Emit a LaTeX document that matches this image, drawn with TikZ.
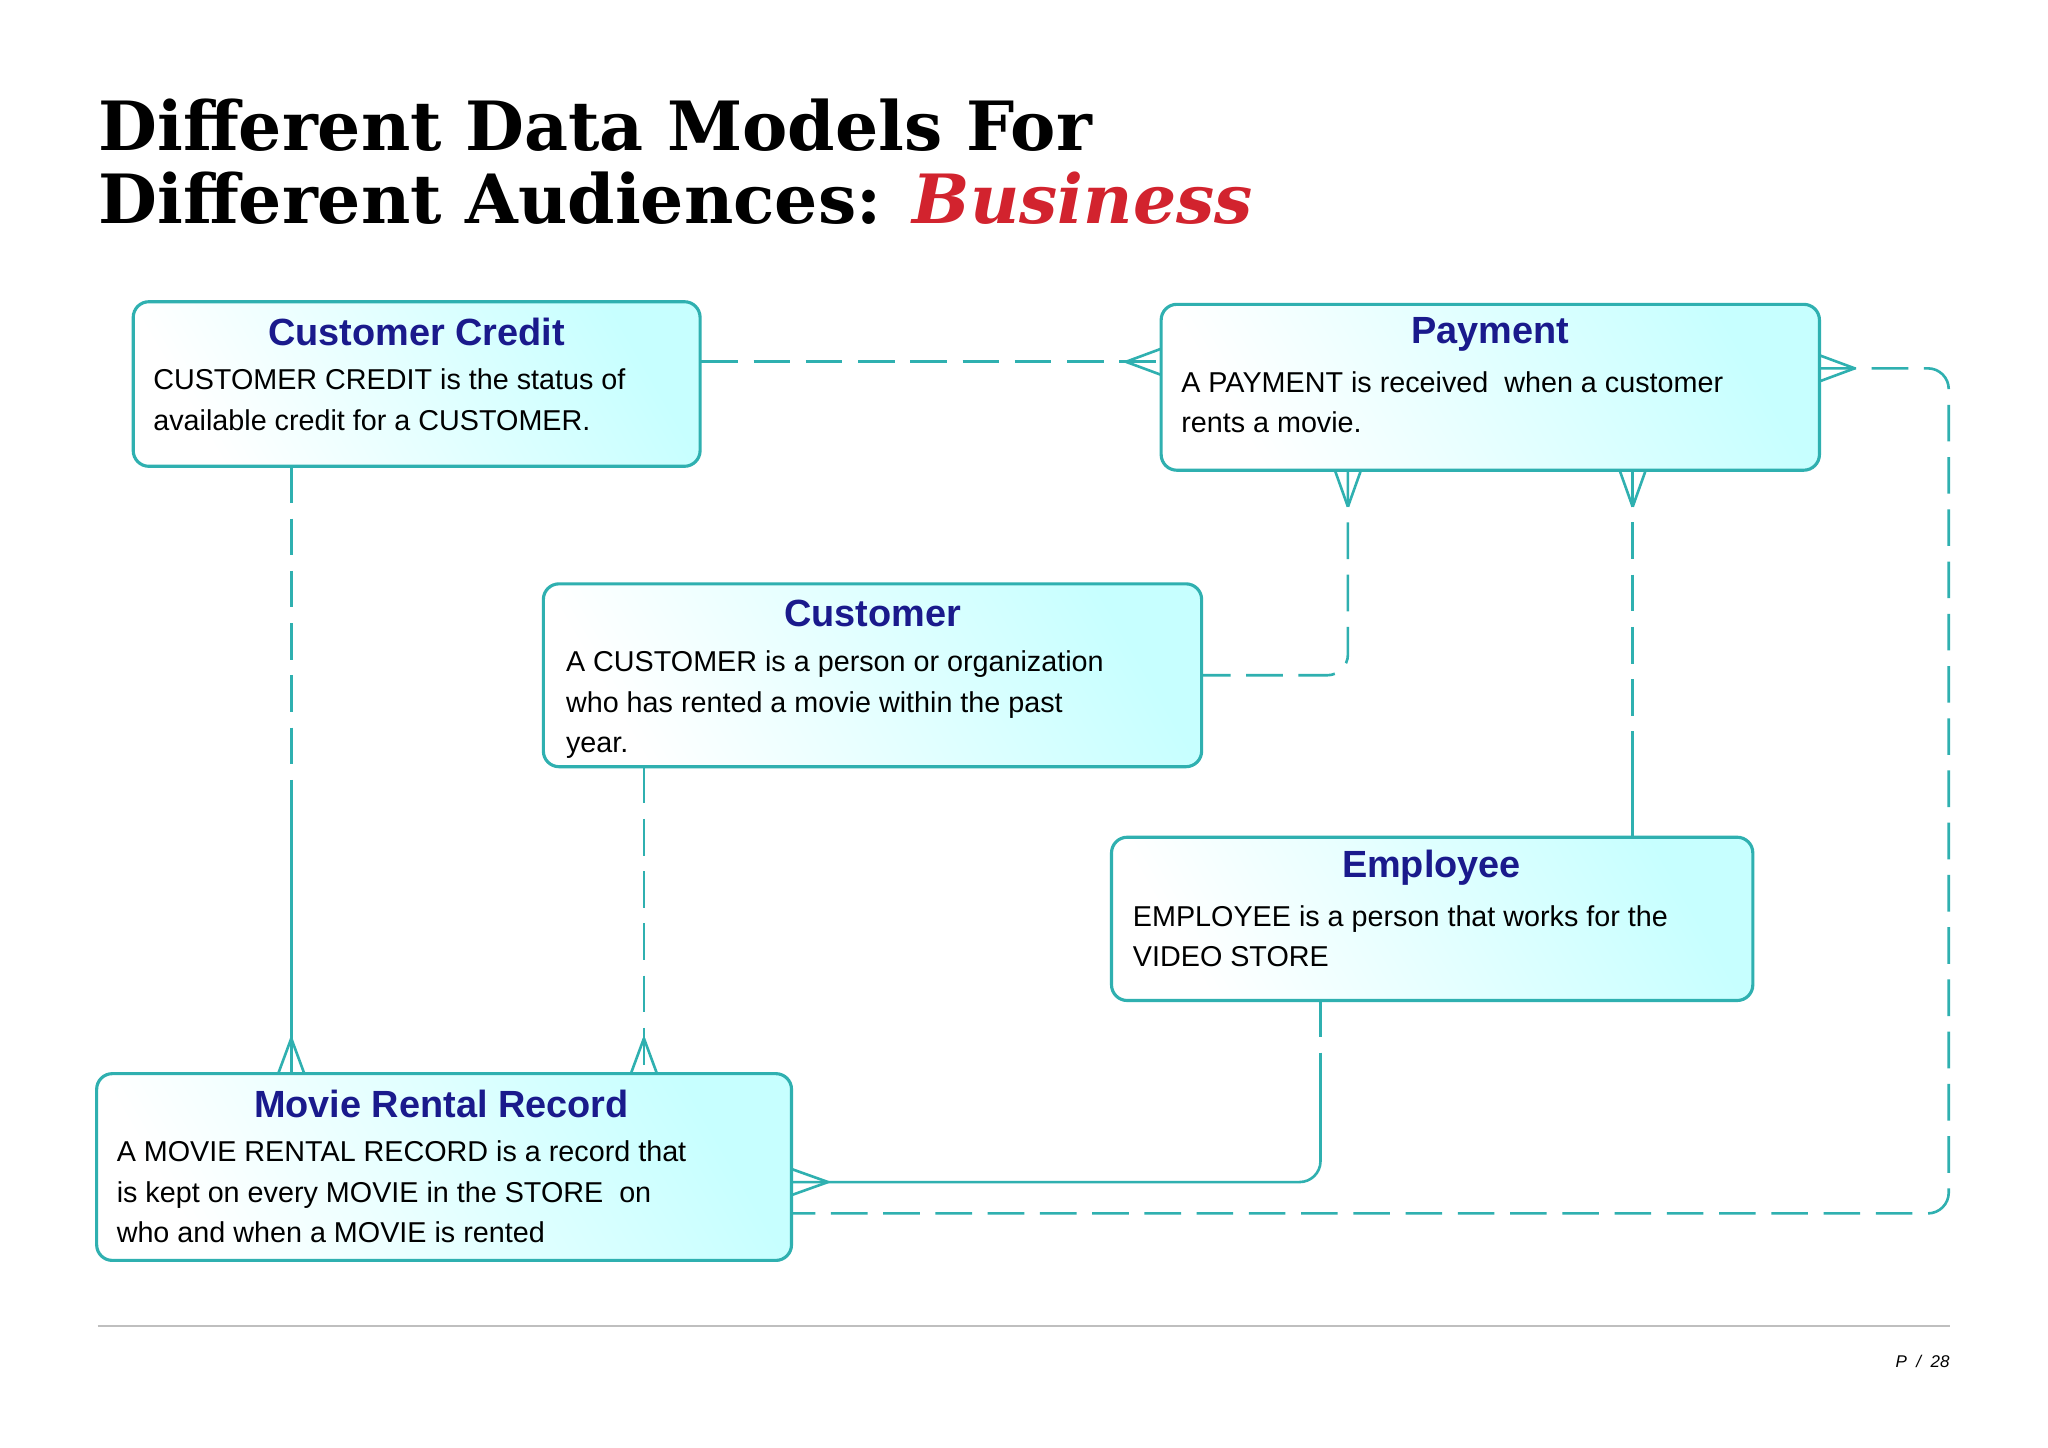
\documentclass[tikz,border=0pt]{standalone}
\usepackage{fontspec}
\setsansfont{Liberation Sans}
\newfontfamily\ttlfont{DejaVu Serif}
\usetikzlibrary{calc}
\definecolor{teal1}{HTML}{2FB0B0}
\definecolor{navy}{HTML}{1A1A8C}
\definecolor{redb}{HTML}{D2232E}
\begin{document}
\begin{tikzpicture}[x=0.5pt,y=-0.5pt,
 ent/.style={draw=teal1,line width=1.2pt,rounded corners=6pt,left color=cyan!22,right color=white,shading angle=300,inner sep=0pt},
 ttl/.style={font=\sffamily\bfseries\fontsize{14.5}{17}\selectfont,text=navy},
 body/.style={font=\sffamily\fontsize{11}{15.5}\selectfont,align=left,anchor=north west,inner sep=0pt},
 rel/.style={draw=teal1,line width=1pt,dash pattern=on 14pt off 6pt},
 sol/.style={draw=teal1,line width=1pt},
 crow/.style={draw=teal1,line width=1pt}]
\useasboundingbox (0,0) rectangle (1568,1108);
\fill[white] (0,0) rectangle (1568,1108);
\node[anchor=base west,inner sep=0pt,font=\ttlfont\bfseries\fontsize{26}{30}\selectfont] (t1) at (75,115) {Different Data Models For};
\node[anchor=base west,inner sep=0pt,font=\ttlfont\bfseries\fontsize{26}{30}\selectfont] (t2) at (75,171) {Different Audiences: \textcolor{redb}{\itshape Business}};
% boxes
\path[ent] (102,231) rectangle (536,357);
\node[ttl] (cct) at (319,254) {Customer Credit};
\node[body] (ccx) at (117,282) {CUSTOMER CREDIT is the status of\\available credit for a CUSTOMER.};
\path[ent] (889,233) rectangle (1393,360);
\node[ttl] (pt) at (1141,256) {Payment};
\node[body] (px) at (904,284) {A PAYMENT is received \ when a customer\\rents a movie.};
\path[ent] (416,447) rectangle (920,587);
\node[ttl] (ct) at (668,470) {Customer};
\node[body] (cx) at (433,498) {A CUSTOMER is a person or organization\\who has rented a movie within the past\\year.};
\path[ent] (851,641) rectangle (1342,766);
\node[ttl] (et) at (1096,664) {Employee};
\node[body] (ex) at (867,693) {EMPLOYEE is a person that works for the\\VIDEO STORE};
\path[ent] (74,822) rectangle (606,965);
\node[ttl] (mt) at (338,845) {Movie Rental Record};
\node[body] (mx) at (89,873) {A MOVIE RENTAL RECORD is a record that\\is kept on every MOVIE in the STORE \ on\\who and when a MOVIE is rented};
% coordinates
\coordinate (a1) at (537,277); \coordinate (a2) at (889,277);
\coordinate (b1) at (1393,282); \coordinate (b2) at (606,929);
\coordinate (c1) at (1032,360); \coordinate (c2) at (921,517);
\coordinate (d1) at (1250,360); \coordinate (d2) at (1250,641);
\coordinate (e1) at (223,357); \coordinate (e2) at (223,822);
\coordinate (f1) at (493,587); \coordinate (f2) at (493,822);
\coordinate (g1) at (1011,766); \coordinate (g2) at (606,905);
% connectors
\draw[rel] (a1) -- (a2);
\draw[rel,rounded corners=8pt] (b1) -- (1492,282) -- (1492,929) -- (b2);
\draw[rel,rounded corners=8pt] (c1) -- (1032,517) -- (c2);
\draw[rel] (d1) -- (1250,560); \draw[sol] (1250,560) -- (d2);
\draw[rel] (e1) -- (223,600); \draw[sol] (223,600) -- (e2);
\draw[rel] (f1) -- (f2);
\draw[rel] (g1) -- (1011,830); \draw[sol,rounded corners=8pt] (1011,830) -- (1011,905) -- (g2);
% crow's feet
\draw[crow] (862,277) -- (889,267) (862,277) -- (889,287);
\draw[crow] (1420,282) -- (1393,272) (1420,282) -- (1393,292);
\draw[crow] (1032,388) -- (1022,360) (1032,388) -- (1042,360);
\draw[crow] (1250,388) -- (1240,360) (1250,388) -- (1260,360);
\draw[crow] (223,795) -- (213,822) (223,795) -- (233,822);
\draw[crow] (493,795) -- (483,822) (493,795) -- (503,822);
\draw[crow] (634,905) -- (606,895) (634,905) -- (606,915);
% footer
\draw[gray!50,line width=0.8pt] (75,1015) -- (1493,1015);
\node[anchor=base east,inner sep=0pt,font=\sffamily\itshape\fontsize{6.5}{8}\selectfont] (pg) at (1493,1047) {P \ / \ 28};
\end{tikzpicture}
\end{document}
